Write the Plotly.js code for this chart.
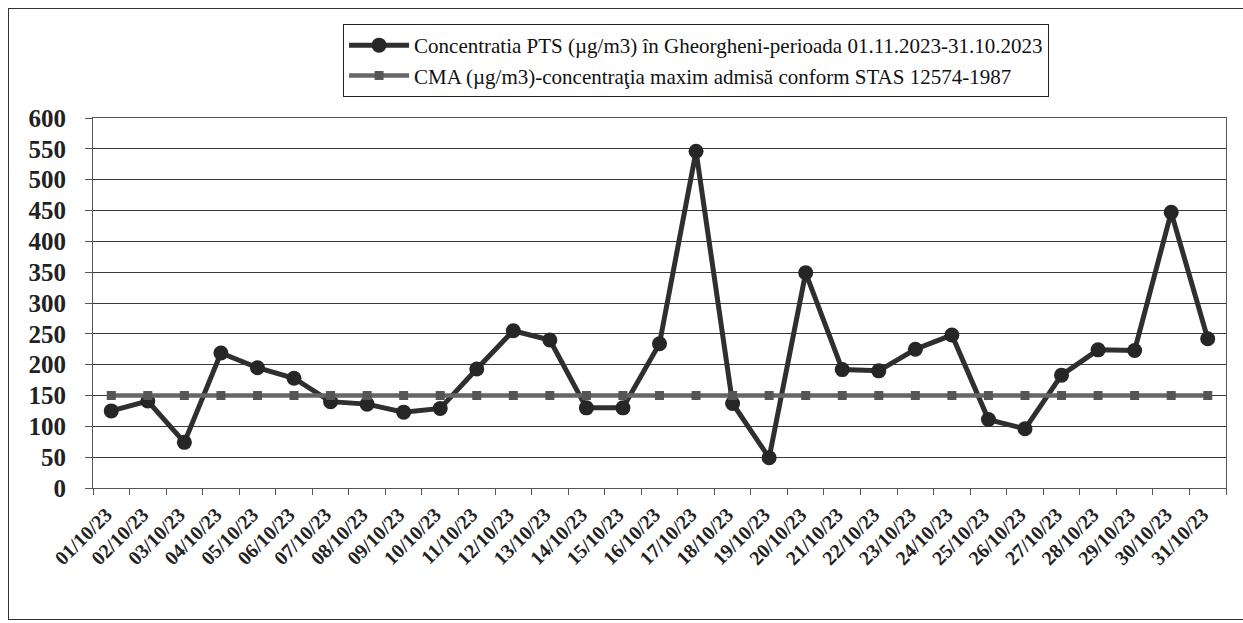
<!DOCTYPE html>
<html>
<head>
<meta charset="utf-8">
<script src="https://cdn.plot.ly/plotly-3.0.1.min.js"></script>
<style>
html,body{margin:0;padding:0;background:#fff;}
#wrap{position:relative;width:1243px;height:623px;overflow:hidden;}
#chart{position:absolute;left:0;top:0;width:1243px;height:623px;}
#frame{position:absolute;left:8px;top:8px;width:1300px;height:610px;border:1px solid #333;pointer-events:none;z-index:5;}
</style>
</head>
<body>
<div id="wrap"><div id="chart"></div><div id="frame"></div></div>
<script>
const dates = ["01/10/23","02/10/23","03/10/23","04/10/23","05/10/23","06/10/23","07/10/23","08/10/23","09/10/23","10/10/23","11/10/23","12/10/23","13/10/23","14/10/23","15/10/23","16/10/23","17/10/23","18/10/23","19/10/23","20/10/23","21/10/23","22/10/23","23/10/23","24/10/23","25/10/23","26/10/23","27/10/23","28/10/23","29/10/23","30/10/23","31/10/23"];
const ptsValues = [125,141,74,219,195,178,140,136,123,129,193,255,240,130,130,234,546,137,49,349,192,190,225,248,111,96,183,224,223,447,242];
const cmaValues = [150,150,150,150,150,150,150,150,150,150,150,150,150,150,150,150,150,150,150,150,150,150,150,150,150,150,150,150,150,150,150];
const ptsName = "Concentratia PTS (µg/m3) în Gheorgheni-perioada 01.11.2023-31.10.2023";
const cmaName = "CMA (µg/m3)-concentraţia maxim admisă conform STAS 12574-1987";

const serif = "Liberation Serif, Times New Roman, serif";

const traces = [
  {
    x: dates, y: ptsValues, name: ptsName, type: "scatter", mode: "lines+markers",
    line: {color: "#2f2f2f", width: 5},
    marker: {symbol: "circle", size: 15, color: "#262626"}
  },
  {
    x: dates, y: cmaValues, name: cmaName, type: "scatter", mode: "lines+markers",
    line: {color: "#666666", width: 4.5},
    marker: {symbol: "square", size: 9, color: "#555555"}
  }
];

const layout = {
  width: 1243, height: 623,
  margin: {l: 93, r: 17, t: 118, b: 135},
  paper_bgcolor: "rgba(0,0,0,0)",
  plot_bgcolor: "#ffffff",
  showlegend: true,
  legend: {
    x: 0.2207, y: 1.254, xanchor: "left", yanchor: "top",
    bgcolor: "#ffffff", bordercolor: "#222", borderwidth: 1,
    font: {family: serif, size: 21, color: "#111"},
    itemwidth: 60, tracegroupgap: 0
  },
  xaxis: {
    type: "category",
    range: [-0.5, 30.5],
    tickangle: -45,
    tickfont: {family: serif, size: 20, color: "#222", weight: "bold"},
    ticklabelstandoff: 6,
    ticklabelshift: -5,
    showline: true, linecolor: "#555", linewidth: 1, mirror: true,
    ticks: "outside", ticklen: 6, tickcolor: "#555", tickson: "boundaries",
    showgrid: false, zeroline: false
  },
  yaxis: {
    range: [0, 600], tick0: 0, dtick: 50,
    tickfont: {family: serif, size: 25, color: "#222", weight: "bold"},
    showline: true, linecolor: "#555", linewidth: 1, mirror: true,
    ticks: "outside", ticklen: 7, tickcolor: "#555",
    ticklabelstandoff: 14,
    showgrid: true, gridcolor: "#3a3a3a", gridwidth: 1,
    zeroline: false
  }
};

Plotly.newPlot("chart", traces, layout, {displayModeBar: false, staticPlot: true});
</script>
</body>
</html>
